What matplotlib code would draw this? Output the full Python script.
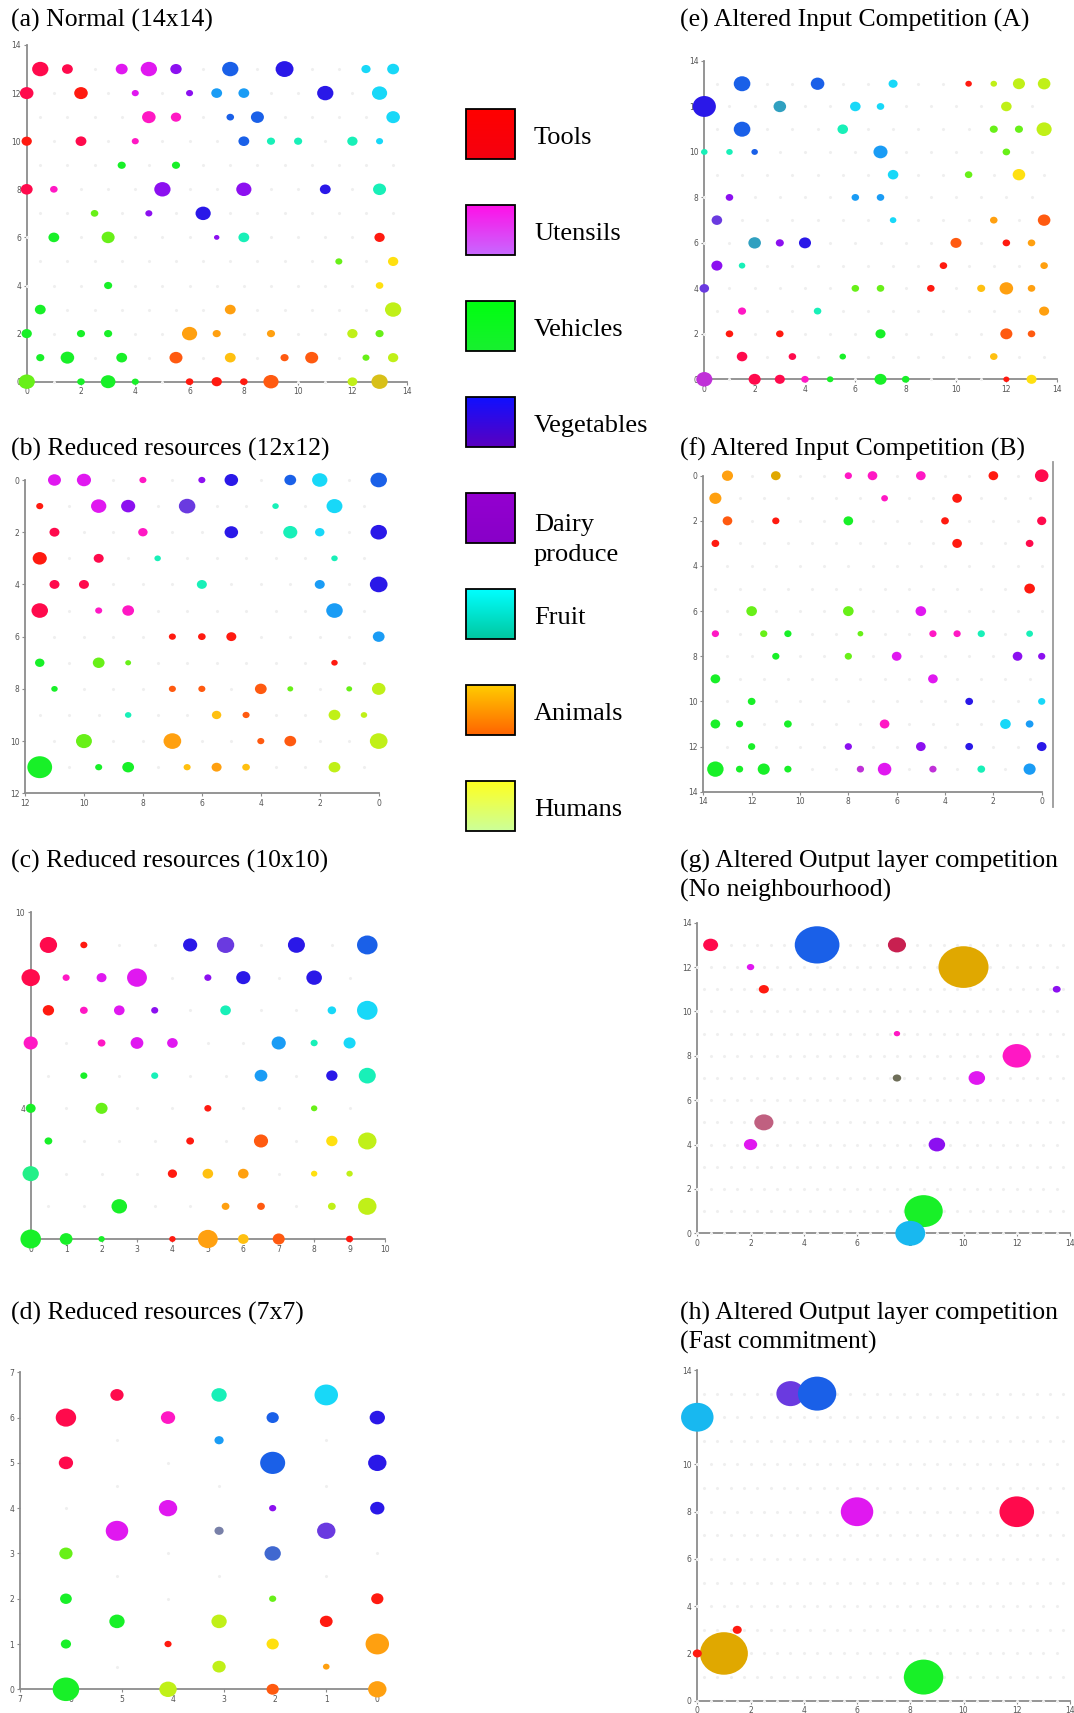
import numpy as np
import matplotlib
matplotlib.use("Agg")
import matplotlib.pyplot as plt
from matplotlib.patches import Circle, Rectangle
from matplotlib.lines import Line2D
from matplotlib.colors import to_rgb

W, H = 1074, 1713

# colour codes of the dots (category blends)
PALETTE = {
    "r": "#ff1a10", "k": "#ff0a4c", "p": "#ff18c4", "m": "#e018f0",
    "w": "#c030d8", "v": "#8c10f0", "u": "#6a3ae0", "b": "#2a18e8",
    "B": "#1a60e8", "l": "#1a9cf5", "i": "#18b8f0", "c": "#18d8f8",
    "t": "#18f0b8", "j": "#22f088", "h": "#30a0c0", "g": "#18f028",
    "G": "#68f018", "y": "#c0f018", "Y": "#ffe010", "z": "#ffc010",
    "o": "#ffa010", "O": "#ff5a10", "a": "#e0a800", "q": "#d8c018",
    "d": "#c82050", "n": "#6e6e58", "e": "#c06080", "s": "#4068d0",
    "x": "#7880a8",
}

# (x, y, activation radius, colour code)
PANEL_A = [
    (0.5, 13, .30, "k"), (1.5, 13, .20, "k"), (3.5, 13, .22, "m"), (4.5, 13, .30, "m"),
    (5.5, 13, .21, "v"), (7.5, 13, .30, "B"), (9.5, 13, .33, "b"), (12.5, 13, .17, "c"),
    (13.5, 13, .22, "c"),
    (0, 12, .25, "k"), (2, 12, .25, "r"), (4, 12, .13, "m"), (6, 12, .13, "v"),
    (7, 12, .20, "l"), (8, 12, .20, "l"), (11, 12, .30, "b"), (13, 12, .28, "c"),
    (4.5, 11, .25, "p"), (5.5, 11, .19, "p"), (7.5, 11, .14, "B"), (8.5, 11, .24, "B"),
    (13.5, 11, .25, "c"),
    (0, 10, .19, "r"), (2, 10, .20, "k"), (4, 10, .13, "p"), (8, 10, .20, "B"),
    (9, 10, .15, "t"), (10, 10, .15, "t"), (12, 10, .19, "t"), (13, 10, .13, "c"),
    (3.5, 9, .15, "g"), (5.5, 9, .15, "g"),
    (0, 8, .22, "k"), (1, 8, .14, "p"), (5, 8, .30, "v"), (8, 8, .28, "v"),
    (11, 8, .20, "b"), (13, 8, .24, "t"),
    (2.5, 7, .14, "G"), (4.5, 7, .13, "v"), (6.5, 7, .28, "b"),
    (1, 6, .20, "g"), (3, 6, .24, "G"), (7, 6, .10, "v"), (8, 6, .20, "t"), (13, 6, .19, "r"),
    (11.5, 5, .13, "G"), (13.5, 5, .19, "Y"),
    (3, 4, .15, "g"), (13, 4, .14, "Y"),
    (0.5, 3, .20, "g"), (7.5, 3, .20, "o"), (13.5, 3, .30, "y"),
    (0, 2, .19, "g"), (2, 2, .15, "g"), (3, 2, .15, "g"), (6, 2, .28, "o"),
    (7, 2, .15, "o"), (9, 2, .15, "o"), (12, 2, .19, "y"), (13, 2, .15, "G"),
    (0.5, 1, .15, "g"), (1.5, 1, .25, "g"), (3.5, 1, .20, "g"), (5.5, 1, .24, "O"),
    (7.5, 1, .20, "z"), (9.5, 1, .15, "O"), (10.5, 1, .24, "O"), (12.5, 1, .13, "G"),
    (13.5, 1, .19, "y"),
    (0, 0, .30, "G"), (2, 0, .14, "g"), (3, 0, .27, "g"), (4, 0, .13, "g"),
    (6, 0, .14, "r"), (7, 0, .19, "r"), (8, 0, .14, "r"), (9, 0, .28, "O"),
    (12, 0, .18, "y"), (13, 0, .30, "q"),
]

PANEL_B = [
    (11, 0, .22, "m"), (10, 0, .24, "m"), (8, 0, .12, "p"), (6, 0, .12, "v"),
    (5, 0, .23, "b"), (3, 0, .20, "B"), (2, 0, .26, "c"), (0, 0, .28, "B"),
    (11.5, 1, .12, "r"), (9.5, 1, .26, "m"), (8.5, 1, .24, "v"), (6.5, 1, .28, "u"),
    (3.5, 1, .11, "t"), (1.5, 1, .27, "c"),
    (11, 2, .17, "k"), (8, 2, .16, "p"), (5, 2, .23, "b"), (3, 2, .24, "t"),
    (2, 2, .16, "c"), (0, 2, .28, "b"),
    (11.5, 3, .24, "r"), (9.5, 3, .17, "k"), (7.5, 3, .11, "t"), (1.5, 3, .11, "t"),
    (11, 4, .17, "k"), (10, 4, .17, "k"), (6, 4, .17, "t"), (2, 4, .17, "l"), (0, 4, .30, "b"),
    (11.5, 5, .28, "k"), (9.5, 5, .12, "p"), (8.5, 5, .20, "p"), (1.5, 5, .28, "l"),
    (7, 6, .12, "r"), (6, 6, .13, "r"), (5, 6, .17, "r"), (0, 6, .20, "l"),
    (11.5, 7, .16, "g"), (9.5, 7, .20, "G"), (8.5, 7, .10, "G"), (1.5, 7, .11, "r"),
    (11, 8, .11, "g"), (7, 8, .12, "O"), (6, 8, .12, "O"), (4, 8, .20, "O"),
    (3, 8, .10, "G"), (1, 8, .10, "G"), (0, 8, .23, "y"),
    (8.5, 9, .11, "t"), (5.5, 9, .16, "z"), (4.5, 9, .12, "O"), (1.5, 9, .20, "y"),
    (0.5, 9, .11, "y"),
    (10, 10, .27, "G"), (7, 10, .30, "o"), (4, 10, .12, "O"), (3, 10, .20, "O"), (0, 10, .30, "y"),
    (11.5, 11, .42, "g"), (9.5, 11, .12, "g"), (8.5, 11, .20, "g"), (6.5, 11, .12, "z"),
    (5.5, 11, .17, "o"), (4.5, 11, .13, "z"), (1.5, 11, .20, "y"),
]

PANEL_C = [
    (0.5, 9, .245, "k"), (1.5, 9, .10, "r"), (4.5, 9, .20, "b"), (5.5, 9, .245, "u"),
    (7.5, 9, .24, "b"), (9.5, 9, .29, "B"),
    (0, 8, .26, "k"), (1, 8, .10, "p"), (2, 8, .14, "m"), (3, 8, .28, "m"),
    (5, 8, .10, "v"), (6, 8, .20, "b"), (8, 8, .22, "b"),
    (0.5, 7, .16, "r"), (1.5, 7, .11, "p"), (2.5, 7, .15, "m"), (3.5, 7, .10, "v"),
    (5.5, 7, .15, "t"), (8.5, 7, .12, "c"), (9.5, 7, .29, "c"),
    (0, 6, .20, "p"), (2, 6, .11, "p"), (3, 6, .18, "m"), (4, 6, .15, "m"),
    (7, 6, .20, "l"), (8, 6, .10, "t"), (9, 6, .17, "c"),
    (1.5, 5, .10, "g"), (3.5, 5, .10, "t"), (6.5, 5, .18, "l"), (8.5, 5, .16, "b"),
    (9.5, 5, .24, "t"),
    (0, 4, .14, "g"), (2, 4, .17, "G"), (5, 4, .10, "r"), (8, 4, .09, "G"),
    (0.5, 3, .11, "g"), (4.5, 3, .11, "r"), (6.5, 3, .20, "O"), (8.5, 3, .16, "Y"),
    (9.5, 3, .26, "y"),
    (0, 2, .23, "j"), (4, 2, .13, "r"), (5, 2, .15, "z"), (6, 2, .15, "o"),
    (8, 2, .09, "Y"), (9, 2, .09, "y"),
    (2.5, 1, .22, "g"), (5.5, 1, .11, "o"), (6.5, 1, .11, "O"), (8.5, 1, .11, "y"),
    (9.5, 1, .26, "y"),
    (0, 0, .29, "g"), (1, 0, .18, "g"), (2, 0, .09, "g"), (4, 0, .09, "r"),
    (5, 0, .28, "o"), (6, 0, .15, "z"), (7, 0, .17, "O"), (9, 0, .10, "r"),
]

D_COLUMNS = [0.0, 1.0, 2.05, 3.1, 4.1, 5.1, 6.1]
PANEL_D = [
    (5.1, 6.5, .13, "k"), (3.1, 6.5, .15, "t"), (1.0, 6.5, .23, "c"),
    (6.1, 6, .20, "k"), (4.1, 6, .14, "p"), (2.05, 6, .12, "B"), (0, 6, .15, "b"),
    (3.1, 5.5, .09, "l"),
    (6.1, 5, .14, "k"), (2.05, 5, .245, "B"), (0, 5, .18, "b"),
    (4.1, 4, .18, "m"), (2.05, 4, .07, "v"), (0, 4, .14, "b"),
    (5.1, 3.5, .22, "m"), (3.1, 3.5, .09, "x"), (1.0, 3.5, .18, "u"),
    (6.1, 3, .13, "G"), (2.05, 3, .16, "s"),
    (6.1, 2, .115, "g"), (2.05, 2, .07, "G"), (0, 2, .12, "r"),
    (5.1, 1.5, .15, "g"), (3.1, 1.5, .15, "y"), (1.0, 1.5, .125, "r"),
    (6.1, 1, .10, "g"), (4.1, 1, .07, "r"), (2.05, 1, .12, "Y"), (0, 1, .23, "o"),
    (3.1, 0.5, .13, "y"), (1.0, 0.5, .065, "o"),
    (6.1, 0, .26, "g"), (4.1, 0, .17, "y"), (2.05, 0, .12, "O"), (0, 0, .18, "o"),
]

PANEL_E = [
    (1.5, 13, .33, "B"), (4.5, 13, .27, "B"), (7.5, 13, .18, "c"), (10.5, 13, .13, "r"),
    (11.5, 13, .13, "y"), (12.5, 13, .24, "y"), (13.5, 13, .25, "y"),
    (0, 12, .46, "b"), (3, 12, .25, "h"), (6, 12, .21, "c"), (7, 12, .15, "c"), (12, 12, .21, "y"),
    (1.5, 11, .33, "B"), (5.5, 11, .21, "t"), (11.5, 11, .16, "G"), (12.5, 11, .16, "G"),
    (13.5, 11, .30, "y"),
    (0, 10, .13, "t"), (1, 10, .13, "t"), (2, 10, .13, "B"), (7, 10, .28, "l"), (12, 10, .15, "G"),
    (7.5, 9, .21, "c"), (10.5, 9, .15, "G"), (12.5, 9, .25, "Y"),
    (1, 8, .15, "v"), (6, 8, .15, "l"), (7, 8, .15, "l"),
    (0.5, 7, .21, "u"), (7.5, 7, .13, "c"), (11.5, 7, .15, "o"), (13.5, 7, .25, "O"),
    (2, 6, .25, "h"), (3, 6, .16, "v"), (4, 6, .24, "b"), (10, 6, .22, "O"),
    (12, 6, .15, "r"), (13, 6, .15, "o"),
    (0.5, 5, .22, "v"), (1.5, 5, .13, "t"), (9.5, 5, .15, "r"), (13.5, 5, .15, "o"),
    (0, 4, .19, "u"), (6, 4, .15, "G"), (7, 4, .15, "G"), (9, 4, .15, "r"),
    (11, 4, .16, "z"), (12, 4, .27, "o"), (13, 4, .15, "o"),
    (1.5, 3, .16, "p"), (4.5, 3, .15, "t"), (13.5, 3, .20, "o"),
    (1, 2, .15, "r"), (3, 2, .15, "r"), (7, 2, .20, "g"), (12, 2, .24, "O"), (13, 2, .15, "O"),
    (1.5, 1, .21, "k"), (3.5, 1, .15, "k"), (5.5, 1, .13, "g"), (11.5, 1, .15, "z"),
    (0, 0, .32, "w"), (2, 0, .24, "k"), (3, 0, .20, "k"), (4, 0, .15, "p"),
    (5, 0, .13, "g"), (7, 0, .24, "g"), (8, 0, .15, "g"), (12, 0, .12, "r"), (13, 0, .20, "Y"),
]

PANEL_F = [
    (13, 0, .23, "o"), (11, 0, .20, "a"), (8, 0, .15, "p"), (7, 0, .20, "p"),
    (5, 0, .20, "p"), (2, 0, .20, "r"), (0, 0, .28, "k"),
    (13.5, 1, .25, "o"), (6.5, 1, .14, "p"), (3.5, 1, .20, "r"),
    (13, 2, .20, "O"), (11, 2, .15, "r"), (8, 2, .20, "g"), (4, 2, .16, "r"), (0, 2, .19, "k"),
    (13.5, 3, .16, "r"), (3.5, 3, .20, "r"), (0.5, 3, .16, "k"),
    (0.5, 5, .22, "r"),
    (12, 6, .22, "G"), (8, 6, .22, "G"), (5, 6, .22, "m"),
    (13.5, 7, .15, "p"), (11.5, 7, .15, "G"), (10.5, 7, .15, "g"), (7.5, 7, .12, "G"),
    (4.5, 7, .15, "p"), (3.5, 7, .15, "p"), (2.5, 7, .15, "t"), (0.5, 7, .14, "t"),
    (11, 8, .15, "g"), (8, 8, .15, "G"), (6, 8, .20, "m"), (1, 8, .20, "v"), (0, 8, .15, "v"),
    (13.5, 9, .20, "g"), (4.5, 9, .20, "m"),
    (12, 10, .16, "g"), (3, 10, .16, "b"), (0, 10, .15, "c"),
    (13.5, 11, .20, "g"), (12.5, 11, .15, "g"), (10.5, 11, .16, "g"), (6.5, 11, .20, "p"),
    (1.5, 11, .22, "c"), (0.5, 11, .16, "l"),
    (12, 12, .15, "g"), (8, 12, .15, "v"), (5, 12, .20, "v"), (3, 12, .16, "b"), (0, 12, .20, "b"),
    (13.5, 13, .34, "g"), (12.5, 13, .15, "g"), (11.5, 13, .25, "g"), (10.5, 13, .15, "g"),
    (7.5, 13, .15, "w"), (6.5, 13, .28, "m"), (4.5, 13, .15, "w"), (2.5, 13, .16, "t"),
    (0.5, 13, .25, "l"),
]

PANEL_G = [
    (0.5, 13, .28, "k"), (4.5, 13, .84, "B"), (7.5, 13, .34, "d"), (10, 12, .94, "a"),
    (2, 12, .14, "m"), (2.5, 11, .19, "r"), (13.5, 11, .15, "v"), (7.5, 9, .12, "p"),
    (12, 8, .53, "p"), (10.5, 7, .31, "m"), (7.5, 7, .16, "n"), (2.5, 5, .36, "e"),
    (2, 4, .25, "m"), (9, 4, .31, "v"), (8.5, 1, .72, "g"), (8, 0, .56, "i"),
]

PANEL_H = [
    (0, 12, .61, "i"), (3.5, 13, .53, "u"), (4.5, 13, .72, "B"), (6, 8, .61, "m"),
    (12, 8, .65, "k"), (1, 2, .90, "a"), (0, 2, .17, "r"), (1.5, 3, .17, "r"),
    (8.5, 1, .74, "g"),
]

TITLES = {
    "a": "(a) Normal (14x14)",
    "b": "(b) Reduced resources (12x12)",
    "c": "(c) Reduced resources (10x10)",
    "d": "(d) Reduced resources (7x7)",
    "e": "(e) Altered Input Competition (A)",
    "f": "(f) Altered Input Competition (B)",
    "g": "(g) Altered Output layer competition\n(No neighbourhood)",
    "h": "(h) Altered Output layer competition\n(Fast commitment)",
}

CATEGORIES = ["Tools", "Utensils", "Vehicles", "Vegetables", "Dairy\nproduce",
              "Fruit", "Animals", "Humans"]
CAT_GRADIENT = [("#ff0000", "#f50010"), ("#ff10e8", "#c868ff"), ("#00ff10", "#18f030"),
                ("#1010ff", "#5a00c0"), ("#9400d0", "#8800c8"), ("#00ffff", "#00c8a0"),
                ("#ffcc00", "#ff6400"), ("#ffff20", "#ccff99")]

AX_COL = "#8c8c8c"
SERIF = ["Liberation Serif", "DejaVu Serif"]

fig = plt.figure(figsize=(W / 100, H / 100), dpi=100)


def panel(xlim, px_x, ylim, px_y):
    # px_x / px_y: pixel position of xlim[0], xlim[1] / ylim[0] (bottom), ylim[1] (top)
    left, right = px_x
    bottom, top = px_y
    ax = fig.add_axes([left / W, 1 - bottom / H, (right - left) / W, (bottom - top) / H])
    ax.set_xlim(*xlim)
    ax.set_ylim(*ylim)
    for s in ("top", "right"):
        ax.spines[s].set_visible(False)
    for s in ("left", "bottom"):
        ax.spines[s].set_color(AX_COL)
        ax.spines[s].set_linewidth(1.3)
    ax.tick_params(length=2.5, width=0.8, color=AX_COL, labelsize=5.5,
                   labelcolor="#555555", pad=1.5)
    ax.set_facecolor("none")
    return ax


def hex_lattice(nrows, ncols, step=1.0):
    xs, ys = [], []
    for row in range(nrows):
        for i in range(ncols):
            xs.append(i * step + 0.5 * step * (row % 2))
            ys.append(row)
    return xs, ys


def draw(ax, dots, grid, over_axis=False):
    gx, gy = grid
    ax.scatter(gx, gy, s=5, c="#efefef", linewidths=0, clip_on=False,
               zorder=3 if over_axis else 1)
    for x, y, r, code in dots:
        ax.add_patch(Circle((x, y), r, facecolor=PALETTE[code], edgecolor="none",
                            clip_on=False, zorder=4))


# (a)
ax = panel((0, 14), (26.7, 406.7), (0, 14), (381.7, 45))
ax.set_xticks(range(0, 15, 2)); ax.set_yticks(range(0, 15, 2))
draw(ax, PANEL_A, hex_lattice(14, 14), over_axis=True)

# (b) both axes reversed
ax = panel((12, 0), (25, 378.7), (12, 0), (793.3, 480))
ax.set_xticks(range(12, -1, -2)); ax.set_yticks(range(0, 13, 2))
draw(ax, PANEL_B, hex_lattice(12, 12))

# (c)
ax = panel((0, 10), (30.7, 385), (0, 10), (1239, 912.3))
ax.set_xticks(range(0, 11)); ax.set_yticks([4, 10])
draw(ax, PANEL_C, hex_lattice(10, 10))

# (d) x reversed
ax = panel((7, 0), (20, 377.3), (0, 7), (1689.3, 1372.3))
ax.set_xticks(range(7, -1, -1)); ax.set_yticks(range(0, 8))
dgx, dgy = [], []
for j, cx in enumerate(D_COLUMNS):
    for k in range(7):
        dgx.append(cx)
        dgy.append(k + 0.5 * (j % 2))
draw(ax, PANEL_D, (dgx, dgy))

# (e)
ax = panel((0, 14), (704.3, 1056.7), (0, 14), (379.3, 61))
ax.set_xticks(range(0, 15, 2)); ax.set_yticks(range(0, 15, 2))
draw(ax, PANEL_E, hex_lattice(14, 14), over_axis=True)

# (f) both axes reversed
ax = panel((14, 0), (703.3, 1041.7), (14, 0), (791.7, 475.7))
ax.set_xticks(range(14, -1, -2)); ax.set_yticks(range(0, 15, 2))
draw(ax, PANEL_F, hex_lattice(14, 14))
fig.add_artist(Line2D([1053.3 / W] * 2, [1 - 462 / H, 1 - 807 / H], color="#9a9a9a", lw=1.3))

# (g)
ax = panel((0, 14), (697.3, 1070), (0, 14), (1233.3, 922.7))
ax.set_xticks(range(0, 15, 2)); ax.set_yticks(range(0, 15, 2))
draw(ax, PANEL_G, hex_lattice(14, 28, 0.5), over_axis=True)

# (h)
ax = panel((0, 14), (697.3, 1070), (0, 14), (1700.7, 1370))
ax.set_xticks(range(0, 15, 2)); ax.set_yticks(range(0, 15, 2))
draw(ax, PANEL_H, hex_lattice(14, 28, 0.5), over_axis=True)

# titles
title_pos = {"a": (11, 20), "e": (680, 20), "b": (11, 449), "f": (680, 449),
             "c": (11, 861), "g": (680, 876), "d": (11, 1313), "h": (680, 1328)}
for key, (tx, ty) in title_pos.items():
    fig.text(tx / W, 1 - ty / H, TITLES[key], family=SERIF, fontsize=18.5,
             ha="left", va="center", linespacing=1.35)

# legend column, drawn in pixel coordinates
lax = fig.add_axes([455 / W, 1 - 840 / H, 205 / W, 745 / H])
for n, (name, (c_top, c_bot)) in enumerate(zip(CATEGORIES, CAT_GRADIENT)):
    top = 109 + n * 96
    grad = np.linspace(0, 1, 64)[:, None, None]
    img = (1 - grad) * np.array(to_rgb(c_top)) + grad * np.array(to_rgb(c_bot))
    lax.imshow(img, extent=[466.5, 514.5, top + 50, top], aspect="auto", zorder=1)
    lax.add_patch(Rectangle((466.5, top), 48, 50, fill=False, edgecolor="black",
                            lw=1.3, zorder=2))
    ty = top + 47 if "\n" in name else top + 29
    lax.text(534, ty, name, family=SERIF, fontsize=19, ha="left", va="center",
             linespacing=1.45)
lax.set_xlim(455, 660)
lax.set_ylim(840, 95)
lax.axis("off")

fig.savefig("out.png", dpi=100, facecolor="white")
